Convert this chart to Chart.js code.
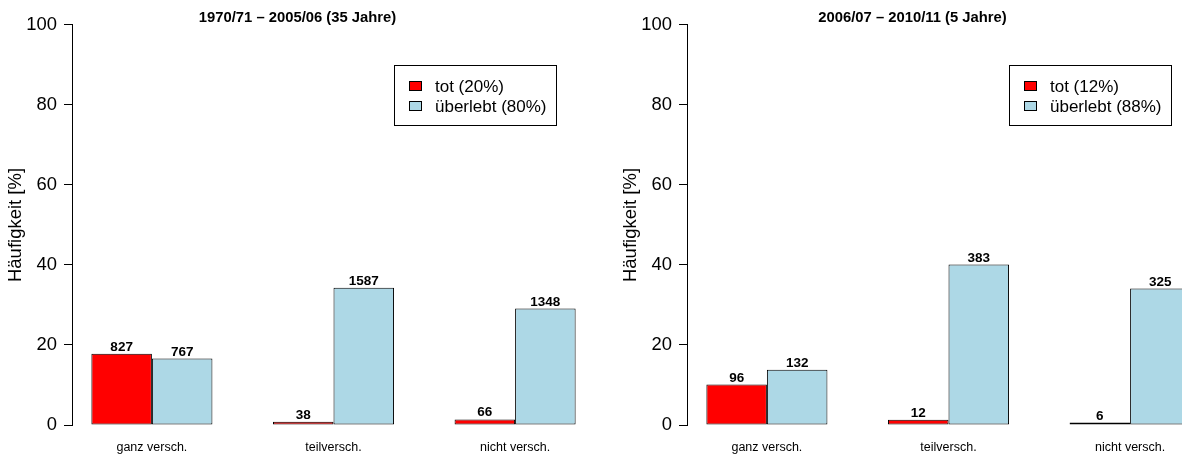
<!DOCTYPE html>
<html>
<head>
<meta charset="utf-8">
<script src="https://cdn.jsdelivr.net/npm/chart.js@4"></script>
<style>
  html, body { margin: 0; padding: 0; background: #fff; }
  body { width: 1182px; height: 462px; overflow: hidden; position: relative; }
  canvas { position: absolute; top: 0; }
  #left { left: 0; }
  #right { left: 615px; }
</style>
</head>
<body>
<canvas id="left" width="615" height="462"></canvas>
<canvas id="right" width="615" height="462"></canvas>
<script>
// Data
const categories = ["ganz versch.", "teilversch.", "nicht versch."];

const titleOld = "1970/71 – 2005/06 (35 Jahre)";
const legendOld = ["tot (20%)", "überlebt (80%)"];
const totPctOld = [17.8, 0.8, 1.4];
const lebtPctOld = [16.6, 34.3, 29.1];
const totCountOld = [827, 38, 66];
const lebtCountOld = [767, 1587, 1348];

const titleNew = "2006/07 – 2010/11 (5 Jahre)";
const legendNew = ["tot (12%)", "überlebt (88%)"];
const totPctNew = [10.1, 1.3, 0.6];
const lebtPctNew = [13.8, 40.1, 34.1];
const totCountNew = [96, 12, 6];
const lebtCountNew = [132, 383, 325];

const yTicks = [0, 20, 40, 60, 80, 100];

const FONT = "'Liberation Sans', Arial, Helvetica, sans-serif";

// Counts above bars
const countLabels = {
  id: "countLabels",
  afterDatasetsDraw(chart) {
    const ctx = chart.ctx;
    ctx.save();
    ctx.font = `bold 13.5px ${FONT}`;
    ctx.fillStyle = "#000";
    ctx.textAlign = "center";
    ctx.textBaseline = "alphabetic";
    chart.data.datasets.forEach((ds, d) => {
      chart.getDatasetMeta(d).data.forEach((bar, i) => {
        ctx.fillText(ds.counts[i], bar.x, bar.y - 3);
      });
    });
    ctx.restore();
  }
};

// R style legend box
const boxLegend = {
  id: "boxLegend",
  afterDraw(chart) {
    const ctx = chart.ctx;
    ctx.save();
    ctx.strokeStyle = "#000";
    ctx.lineWidth = 1;
    ctx.strokeRect(394.5, 65.5, 162, 60);
    ctx.font = `17px ${FONT}`;
    ctx.textBaseline = "middle";
    ctx.textAlign = "left";
    chart.data.datasets.forEach((ds, d) => {
      const cy = 86 + d * 20;
      ctx.fillStyle = ds.backgroundColor;
      ctx.fillRect(409.5, cy - 4.5, 12, 9);
      ctx.strokeRect(409.5, cy - 4.5, 12, 9);
      ctx.fillStyle = "#000";
      ctx.fillText(ds.label, 435, cy + 1);
    });
    ctx.restore();
  }
};

function makeChart(canvas, title, legend, totPct, lebtPct, totCount, lebtCount) {
  const data = {
    datasets: [
      {
        label: legend[0],
        data: totPct.map((y, i) => ({ x: i, y: y })),
        counts: totCount,
        backgroundColor: "#FF0000"
      },
      {
        label: legend[1],
        data: lebtPct.map((y, i) => ({ x: i, y: y })),
        counts: lebtCount,
        backgroundColor: "#ADD8E6"
      }
    ]
  };
  data.datasets.forEach(ds => {
    ds.borderColor = "#000";
    ds.borderWidth = 1;
    ds.borderSkipped = false;
    ds.categoryPercentage = 2 / 3;
    ds.barPercentage = 1;
  });
  const options = {
    responsive: false,
    animation: false,
    layout: { padding: { left: 0, right: 20, top: 0, bottom: 0 } },
    plugins: {
      legend: { display: false },
      tooltip: { enabled: false },
      title: {
        display: true,
        text: title,
        color: "#000",
        font: { family: FONT, size: 14.8, weight: "bold", lineHeight: 0.85 },
        padding: { top: 12, bottom: 0.4 }
      }
    },
    scales: {
      x: {
        type: "linear",
        min: -0.44,
        max: 2.44,
        offset: false,
        grid: { display: false, drawTicks: false },
        border: { display: false },
        afterBuildTicks: axis => {
          axis.ticks = categories.map((c, i) => ({ value: i }));
        },
        afterFit: axis => {
          axis.height = 37;
        },
        ticks: {
          color: "#000",
          padding: 15.5,
          maxRotation: 0,
          font: { family: FONT, size: 12.5 },
          callback: v => categories[v]
        }
      },
      y: {
        min: 0,
        max: 100,
        afterBuildTicks: axis => {
          axis.ticks = yTicks.map(v => ({ value: v }));
        },
        afterFit: axis => {
          axis.width = 72;
        },
        grid: {
          drawOnChartArea: false,
          drawTicks: true,
          tickLength: 8,
          color: "#000",
          lineWidth: 1
        },
        border: { display: true, color: "#000", width: 1 },
        ticks: {
          color: "#000",
          padding: 7,
          font: { family: FONT, size: 18.4 }
        },
        title: {
          display: true,
          text: "Häufigkeit [%]",
          color: "#000",
          font: { family: FONT, size: 18.5 },
          padding: { top: 5, bottom: 0 }
        }
      }
    }
  };
  return new Chart(canvas, {
    type: "bar",
    data: data,
    options: options,
    plugins: [countLabels, boxLegend]
  });
}

makeChart(document.querySelector("#left"), titleOld, legendOld,
  totPctOld, lebtPctOld, totCountOld, lebtCountOld);
makeChart(document.querySelector("#right"), titleNew, legendNew,
  totPctNew, lebtPctNew, totCountNew, lebtCountNew);
</script>
</body>
</html>
